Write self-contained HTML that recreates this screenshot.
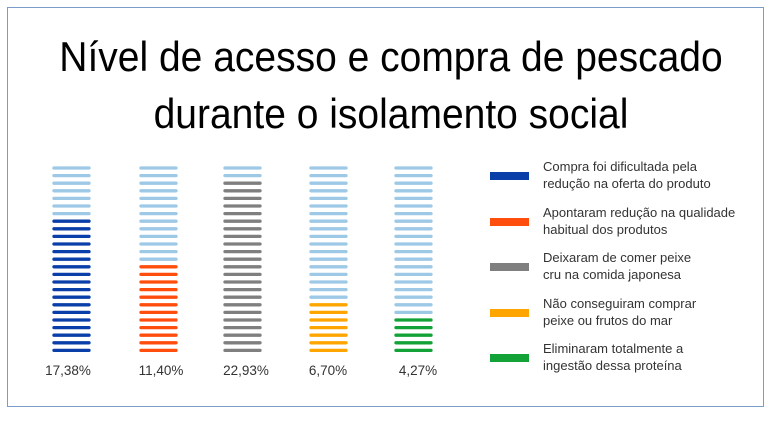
<!DOCTYPE html>
<html><head><meta charset="utf-8"><style>
body{margin:0;background:#fff;width:770px;height:421px;overflow:hidden;position:relative;font-family:"Liberation Sans",sans-serif}
.frame{position:absolute;left:7px;top:7px;width:757px;height:400px;border:1.5px solid #7a9cc8;box-sizing:border-box}
.t{position:absolute;left:0;width:782px;text-align:center;font-size:39px;color:#000;white-space:nowrap;transform:scaleY(1.08)}
.lbl{position:absolute;font-size:13.5px;color:#333;transform:translateX(-50%);top:363px}
.lg{position:absolute;left:543px;font-size:13px;color:#333;line-height:17px;white-space:nowrap}
.sw{position:absolute;left:490px;width:39px;height:8px}
</style></head><body>
<div class="frame"></div>
<div class="t" style="top:36px">Nível de acesso e compra de pescado</div>
<div class="t" style="top:93px">durante o isolamento social</div>
<svg width="770" height="421" style="position:absolute;left:0;top:0">
<g id="bars" stroke-width="3.3" stroke-linecap="round"></g>
</svg>
<script>
var g=document.getElementById('bars');
var bars=[[53,18,'#0a3ea8'],[140,12,'#ff4d0d'],[224,23,'#7f7f7f'],[310,7,'#ffa500'],[395,5,'#13a238']];
var s='';
bars.forEach(function(b){for(var i=0;i<25;i++){var y=168+i*7.6;var c=(i>=25-b[1])?b[2]:'#9dc8e6';s+='<line x1="'+(b[0]+1)+'" x2="'+(b[0]+36)+'" y1="'+y+'" y2="'+y+'" stroke="'+c+'"/>';}});
g.innerHTML=s;
</script>
<div class="lbl" style="left:68px">17,38%</div>
<div class="lbl" style="left:161px">11,40%</div>
<div class="lbl" style="left:246px">22,93%</div>
<div class="lbl" style="left:328px">6,70%</div>
<div class="lbl" style="left:418px">4,27%</div>
<div class="sw" style="top:172px;background:#0a3ea8"></div>
<div class="sw" style="top:218px;background:#ff4d0d"></div>
<div class="sw" style="top:263px;background:#7f7f7f"></div>
<div class="sw" style="top:309px;background:#ffa500"></div>
<div class="sw" style="top:354px;background:#13a238"></div>
<div class="lg" style="top:158px">Compra foi dificultada pela<br>redução na oferta do produto</div>
<div class="lg" style="top:204px">Apontaram redução na qualidade<br>habitual dos produtos</div>
<div class="lg" style="top:249px">Deixaram de comer peixe<br>cru na comida japonesa</div>
<div class="lg" style="top:295px">Não conseguiram comprar<br>peixe ou frutos do mar</div>
<div class="lg" style="top:340px">Eliminaram totalmente a<br>ingestão dessa proteína</div>
</body></html>
